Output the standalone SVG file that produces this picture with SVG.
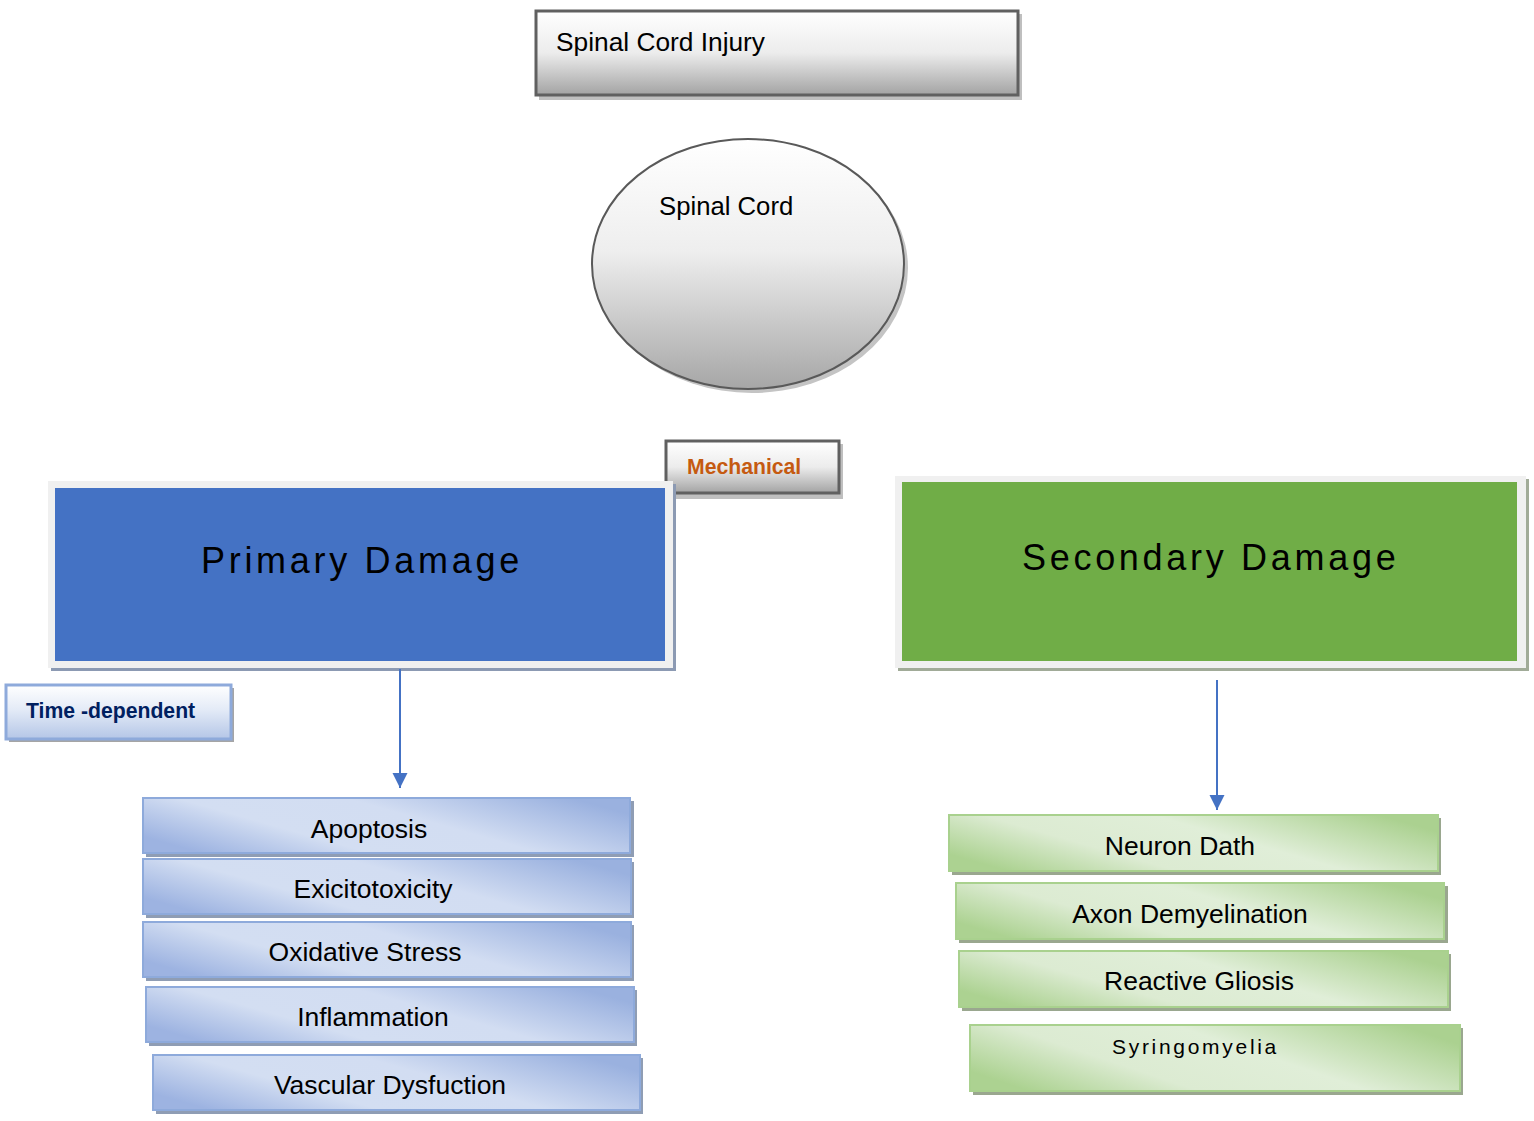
<svg xmlns="http://www.w3.org/2000/svg" width="1534" height="1121" viewBox="0 0 1534 1121">
<defs>
<linearGradient id="gGray" x1="0" y1="0" x2="0" y2="1">
<stop offset="0" stop-color="#ffffff"/>
<stop offset="0.5" stop-color="#ececec"/>
<stop offset="1" stop-color="#a3a3a3"/>
</linearGradient>
<linearGradient id="gEll" x1="0" y1="0" x2="0" y2="1">
<stop offset="0" stop-color="#ffffff"/>
<stop offset="0.45" stop-color="#eeeeee"/>
<stop offset="1" stop-color="#a6a6a6"/>
</linearGradient>
<linearGradient id="gTime" x1="0" y1="0" x2="0" y2="1">
<stop offset="0" stop-color="#ffffff"/>
<stop offset="0.45" stop-color="#e4ebf7"/>
<stop offset="1" stop-color="#b4c6e7"/>
</linearGradient>
<linearGradient id="gBlue" x1="0" y1="0.7" x2="1" y2="0.3">
<stop offset="0" stop-color="#9db3e1"/>
<stop offset="0.3" stop-color="#d3def2"/>
<stop offset="0.6" stop-color="#d2ddf2"/>
<stop offset="1" stop-color="#9ab1df"/>
</linearGradient>
<linearGradient id="gGreen" x1="0" y1="0.7" x2="1" y2="0.3">
<stop offset="0" stop-color="#acd291"/>
<stop offset="0.3" stop-color="#dcebd2"/>
<stop offset="0.6" stop-color="#e0eed8"/>
<stop offset="1" stop-color="#abd190"/>
</linearGradient>
<marker id="arrow" viewBox="0 0 10 10" refX="10" refY="5" markerWidth="7.5" markerHeight="8" markerUnits="strokeWidth" orient="auto">
<path d="M0,0 L10,5 L0,10 z" fill="#4472c4"/>
</marker>
</defs>
<style>
text { font-family: "Liberation Sans", Arial, sans-serif; fill: #000; }
.gshadow { fill: #bfbfbf; }
.gbox { fill: url(#gGray); stroke: #606060; stroke-width: 3; }
.bshadow { fill: #8f9db4; }
.bbox { fill: url(#gBlue); stroke: #8eaadb; stroke-width: 2; }
.gnshadow { fill: #9aa78f; }
.gnbox { fill: url(#gGreen); stroke: #a9d18e; stroke-width: 2; }
.item { font-size: 26.5px; text-anchor: middle; }
.big { font-size: 36px; letter-spacing: 3.7px; }
.conn { stroke: #4472c4; stroke-width: 2; fill: none; }
</style>
<rect width="1534" height="1121" fill="#ffffff"/>

<g id="sci">
<rect class="gshadow" x="539" y="14" width="483" height="86"/>
<rect class="gbox" x="536" y="11" width="482" height="84"/>
<text x="556" y="51" font-size="26.3">Spinal Cord Injury</text>
</g>

<g id="spinal-cord">
<ellipse cx="752" cy="268" rx="156" ry="125" fill="#c4c4c4"/>
<ellipse cx="748" cy="264" rx="156" ry="125" fill="url(#gEll)" stroke="#595959" stroke-width="2"/>
<text x="659" y="215" font-size="25.7">Spinal Cord</text>
</g>

<g id="mechanical">
<rect class="gshadow" x="669" y="444" width="174" height="55"/>
<rect class="gbox" x="666" y="441" width="173" height="52"/>
<text x="687" y="474" font-size="21.2" font-weight="bold" style="fill:#c55a11">Mechanical</text>
</g>

<g id="primary">
<rect x="51" y="484" width="625" height="187" fill="#8c9ab3"/>
<rect x="48" y="481" width="625" height="187" fill="#f0f0f0"/>
<rect x="55" y="488" width="610" height="173" fill="#4472c4"/>
<text class="big" x="201" y="573">Primary Damage</text>
</g>

<g id="secondary">
<rect x="898" y="479" width="631" height="192" fill="#a1ab98"/>
<rect x="895" y="476" width="631" height="192" fill="#f0f0f0"/>
<rect x="902" y="482" width="615" height="179" fill="#70ad47"/>
<text class="big" x="1022" y="570">Secondary Damage</text>
</g>

<g id="time-dependent">
<rect x="9" y="688" width="225" height="54" fill="#a5a5a5"/>
<rect x="6" y="685" width="225" height="54" fill="url(#gTime)" stroke="#8eaadb" stroke-width="3"/>
<text x="26" y="718" font-size="21.2" font-weight="bold" style="fill:#002060">Time -dependent</text>
</g>

<g id="connectors">
<line class="conn" x1="400" y1="669" x2="400" y2="788" marker-end="url(#arrow)"/>
<line class="conn" x1="1217" y1="680" x2="1217" y2="810" marker-end="url(#arrow)"/>
</g>

<g id="apoptosis">
<rect class="bshadow" x="146" y="801" width="488" height="56"/>
<rect class="bbox" x="143" y="798" width="487" height="55"/>
<text class="item" x="369" y="838">Apoptosis</text>
</g>
<g id="excitotoxicity">
<rect class="bshadow" x="146" y="862" width="488" height="56"/>
<rect class="bbox" x="143" y="859" width="488" height="55"/>
<text class="item" x="373" y="898">Exicitotoxicity</text>
</g>
<g id="oxidative-stress">
<rect class="bshadow" x="146" y="925" width="488" height="56"/>
<rect class="bbox" x="143" y="922" width="488" height="55"/>
<text class="item" x="365" y="961">Oxidative Stress</text>
</g>
<g id="inflammation">
<rect class="bshadow" x="149" y="990" width="488" height="56"/>
<rect class="bbox" x="146" y="987" width="488" height="55"/>
<text class="item" x="373" y="1026">Inflammation</text>
</g>
<g id="vascular-dysfuction">
<rect class="bshadow" x="156" y="1058" width="487" height="56"/>
<rect class="bbox" x="153" y="1055" width="487" height="55"/>
<text class="item" x="390" y="1094">Vascular Dysfuction</text>
</g>

<g id="neuron-dath">
<rect class="gnshadow" x="952" y="818" width="489" height="57"/>
<rect class="gnbox" x="949" y="815" width="489" height="56"/>
<text class="item" x="1180" y="855">Neuron Dath</text>
</g>
<g id="axon-demyelination">
<rect class="gnshadow" x="959" y="886" width="489" height="57"/>
<rect class="gnbox" x="956" y="883" width="488" height="56"/>
<text class="item" x="1190" y="923">Axon Demyelination</text>
</g>
<g id="reactive-gliosis">
<rect class="gnshadow" x="962" y="954" width="489" height="57"/>
<rect class="gnbox" x="959" y="951" width="489" height="56"/>
<text class="item" x="1199" y="990">Reactive Gliosis</text>
</g>
<g id="syringomyelia">
<rect class="gnshadow" x="973" y="1028" width="490" height="67"/>
<rect class="gnbox" x="970" y="1025" width="490" height="66"/>
<text x="1112" y="1054" font-size="21" letter-spacing="2.7">Syringomyelia</text>
</g>
</svg>
